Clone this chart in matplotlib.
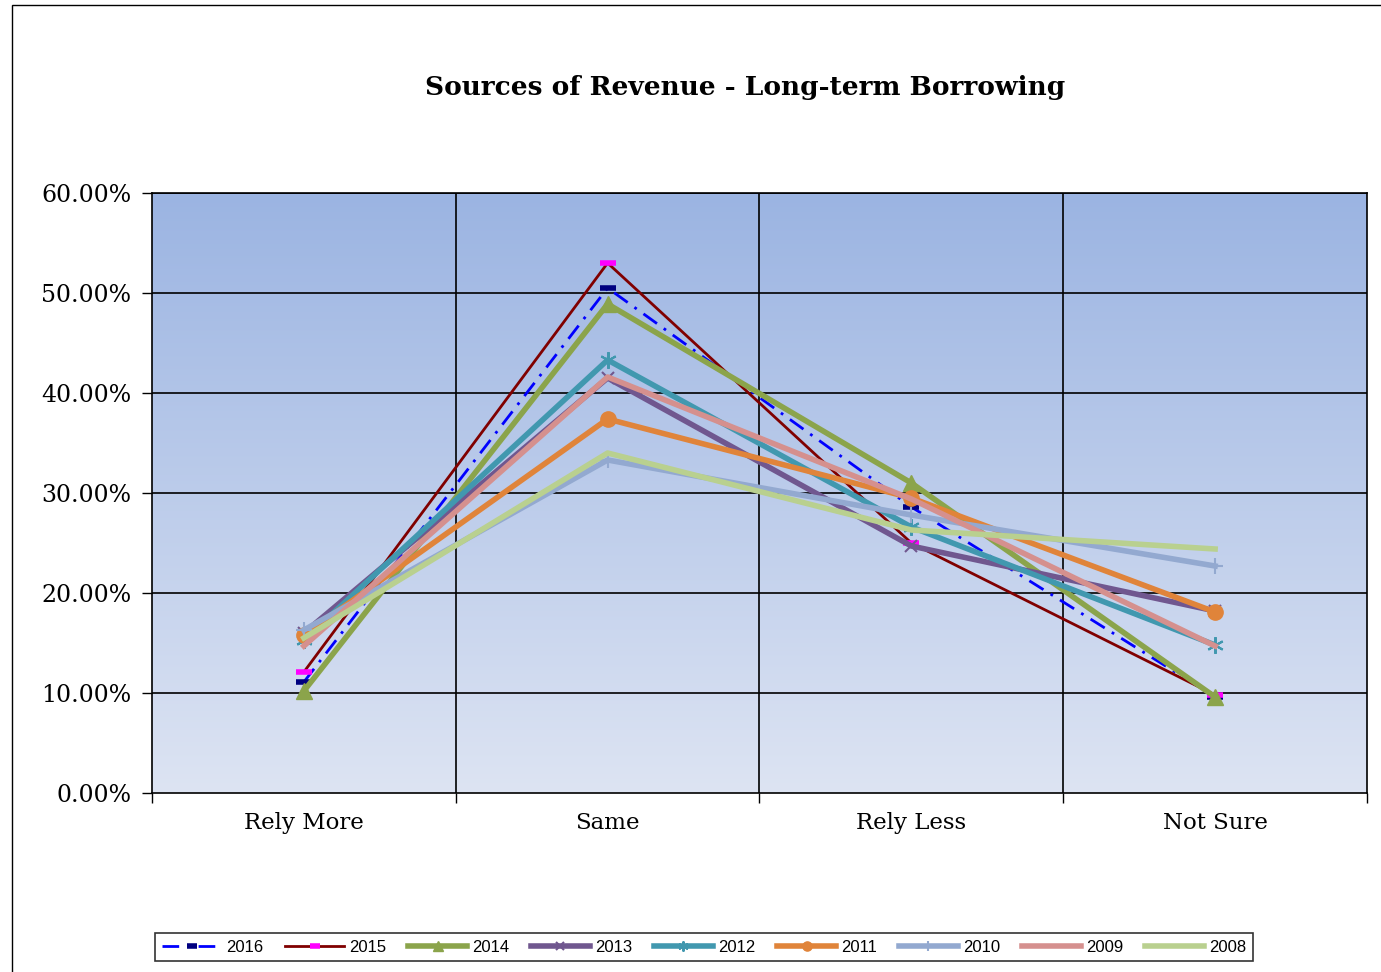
import matplotlib
matplotlib.use('Agg')
import matplotlib.pyplot as plt
import numpy as np
from matplotlib.patches import Rectangle
from matplotlib.colors import LinearSegmentedColormap

# ── DATA ──────────────────────────────────────────────────────
categories = ["Rely More", "Same", "Rely Less", "Not Sure"]
years = ["2016", "2015", "2014", "2013", "2012", "2011", "2010", "2009", "2008"]

v2016 = [11.1, 50.5, 28.6, 9.6]
v2015 = [12.1, 53.0, 25.0, 9.8]
v2014 = [10.2, 48.9, 31.0, 9.6]
v2013 = [16.0, 41.5, 24.7, 18.2]
v2012 = [15.3, 43.3, 26.6, 14.8]
v2011 = [15.8, 37.4, 29.5, 18.1]
v2010 = [16.3, 33.3, 27.8, 22.7]
v2009 = [14.7, 41.6, 29.4, 14.7]
v2008 = [15.5, 34.0, 26.3, 24.4]
series = [v2016, v2015, v2014, v2013, v2012, v2011, v2010, v2009, v2008]

# ── STYLES ────────────────────────────────────────────────────
styles = [
    dict(color='#0000FF', lw=2, ls=(0, (6, 3, 1, 3)), marker='_', ms=12, mew=4, mec='#000080'),
    dict(color='#800000', lw=2, ls='-', marker='_', ms=12, mew=4, mec='#FF00FF'),
    dict(color='#8BA44B', lw=4, ls='-', marker='^', ms=11, mec='#8BA44B'),
    dict(color='#70578F', lw=4, ls='-', marker='x', ms=9, mew=1.5, mec='#70578F'),
    dict(color='#4198AF', lw=4, ls='-', marker=(6, 2, 0), ms=12, mew=1.5, mec='#4198AF'),
    dict(color='#E0843A', lw=4, ls='-', marker='o', ms=11, mec='#E0843A'),
    dict(color='#93A9D0', lw=4, ls='-', marker='+', ms=12, mew=1.5, mec='#93A9D0'),
    dict(color='#D5908E', lw=4, ls='-', marker='none'),
    dict(color='#B9D08F', lw=4, ls='-', marker='none'),
]

serif = 'DejaVu Serif'

fig = plt.figure(figsize=(13.81, 9.72), dpi=100)
fig.patches.append(Rectangle((12 / 1381, -0.1), 1.2, 1.1 - 5 / 972,
                             transform=fig.transFigure, fill=False,
                             edgecolor='black', lw=1))

ax = fig.add_axes([152 / 1381, 1 - 793 / 972, 1215 / 1381, 600 / 972])
x = np.arange(len(categories))

# gradient background
grad = np.linspace(0, 1, 256).reshape(-1, 1)
cmap = LinearSegmentedColormap.from_list('bg', ['#DDE4F3', '#9BB4E2'])
ax.imshow(grad, aspect='auto', cmap=cmap, origin='lower',
          extent=[-0.5, 3.5, 0, 60], zorder=0)

for yr, vals, st in zip(years, series, styles):
    ax.plot(x, vals, label=yr, zorder=3, **st)

ax.set_xlim(-0.5, 3.5)
ax.set_ylim(0, 60)
ax.set_yticks(np.arange(0, 61, 10))
ax.set_yticklabels([f'{v:.2f}%' for v in np.arange(0, 61, 10)],
                   fontsize=17, family=serif)
ax.set_xticks(x)
ax.set_xticklabels(categories, fontsize=16.5, family=serif)
ax.tick_params(axis='x', which='major', length=0, pad=14)
ax.set_xticks(np.arange(-0.5, 4, 1), minor=True)
ax.tick_params(axis='x', which='minor', length=7, width=1)
ax.tick_params(axis='y', length=7, width=1, pad=8)

for yv in np.arange(10, 61, 10):
    ax.axhline(yv, color='black', lw=1.2, zorder=1)
for xv in [0.5, 1.5, 2.5]:
    ax.axvline(xv, color='black', lw=1.2, zorder=1)
for s in ax.spines.values():
    s.set_color('black')
    s.set_linewidth(1.2)

fig.text(745 / 1381, 1 - 88 / 972, 'Sources of Revenue - Long-term Borrowing',
         ha='center', va='center', fontsize=19, fontweight='bold', family=serif)

leg = fig.legend(loc='center', bbox_to_anchor=(704 / 1381, 1 - 947 / 972),
                 ncol=9, frameon=True, fancybox=False, markerscale=0.6,
                 handlelength=3.55, columnspacing=1.3, handletextpad=0.3,
                 borderpad=0.4, prop={'family': 'Liberation Sans', 'size': 12})
leg.get_frame().set_edgecolor('black')
leg.get_frame().set_linewidth(1.2)

plt.savefig('out.png', dpi=100)
